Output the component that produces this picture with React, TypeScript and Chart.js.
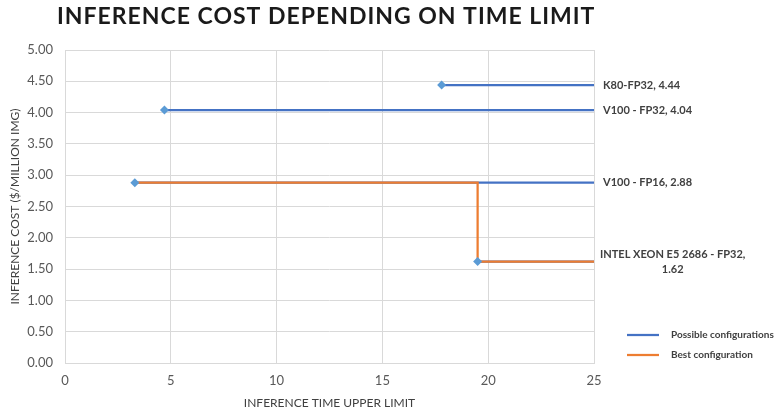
import React, { useEffect, useRef } from "react";
import { Chart, registerables } from "chart.js";

Chart.register(...registerables);

const chartTitle = "INFERENCE COST DEPENDING ON TIME LIMIT";
const xAxisTitle = "INFERENCE TIME UPPER LIMIT";
const yAxisTitle = "INFERENCE COST ($/MILLION IMG)";

const configNames = ["K80-FP32", "V100 - FP32", "V100 - FP16", "INTEL XEON E5 2686 - FP32"];
const configTimes = [17.8, 4.7, 3.3, 19.5];
const configCosts = [4.44, 4.04, 2.88, 1.62];
const timeLimitMax = 25;

const bestPathTimes = [3.3, 19.5, 19.5, 25];
const bestPathCosts = [2.88, 2.88, 1.62, 1.62];

const legendLabels = ["Possible configurations", "Best configuration"];

const BLUE = "#4472C4";
const MARKER = "#5B9BD5";
const ORANGE = "#ED7D31";
const FONT = "Lato, 'Open Sans', sans-serif";

export default function App() {
  const ref = useRef<HTMLCanvasElement | null>(null);

  useEffect(() => {
    if (!ref.current) return;

    const datasets: any[] = [];
    datasets.push({
      label: "markers",
      data: configTimes.map((t, i) => ({ x: t, y: configCosts[i] })),
      showLine: false,
      pointStyle: "rectRot",
      pointRadius: 4.5,
      pointBackgroundColor: MARKER,
      pointBorderColor: MARKER,
      borderWidth: 0,
    });
    datasets.push({
      label: legendLabels[1],
      data: bestPathTimes.map((t, i) => ({ x: t, y: bestPathCosts[i] })),
      showLine: true,
      borderColor: ORANGE,
      borderWidth: 2.25,
      pointRadius: 0,
      borderCapStyle: "butt",
    });
    configTimes.forEach((t, i) => {
      datasets.push({
        label: configNames[i],
        data: [
          { x: t, y: configCosts[i] },
          { x: timeLimitMax, y: configCosts[i] },
        ],
        showLine: true,
        borderColor: BLUE,
        borderWidth: 2.25,
        pointRadius: 0,
      });
    });

    const overlay = {
      id: "overlay",
      afterDatasetsDraw(chart: any) {
        const ctx = chart.ctx;
        const xs = chart.scales.x;
        const ys = chart.scales.y;
        ctx.save();
        ctx.fillStyle = "#404040";
        ctx.font = `bold 11px ${FONT}`;
        ctx.textBaseline = "middle";
        configNames.forEach((name, i) => {
          const px = xs.getPixelForValue(timeLimitMax);
          const py = ys.getPixelForValue(configCosts[i]);
          const text = `${name}, ${configCosts[i].toFixed(2)}`;
          const w = ctx.measureText(text).width;
          if (px + 8 + w > chart.width - 4) {
            const line1 = `${name},`;
            const line2 = configCosts[i].toFixed(2);
            const w1 = ctx.measureText(line1).width;
            ctx.textAlign = "center";
            const cx = px + 6 + w1 / 2;
            ctx.fillText(line1, cx, py - 7);
            ctx.fillText(line2, cx, py + 8);
          } else {
            ctx.textAlign = "left";
            ctx.fillText(text, px + 9, py);
          }
        });
        const items = [
          { label: legendLabels[0], color: BLUE },
          { label: legendLabels[1], color: ORANGE },
        ];
        ctx.font = `bold 10px ${FONT}`;
        ctx.textAlign = "left";
        items.forEach((it, k) => {
          const y = 335 + k * 20;
          ctx.strokeStyle = it.color;
          ctx.lineWidth = 2.25;
          ctx.beginPath();
          ctx.moveTo(627, y);
          ctx.lineTo(659, y);
          ctx.stroke();
          ctx.fillStyle = "#404040";
          ctx.fillText(it.label, 671, y);
        });
        ctx.fillStyle = "#1a1a1a";
        ctx.font = `bold 23px ${FONT}`;
        (ctx as any).letterSpacing = "1px";
        ctx.textBaseline = "alphabetic";
        ctx.fillText(chartTitle, 57, 24);
        ctx.restore();
      },
    };

    const chart = new Chart(ref.current, {
      type: "scatter",
      data: { datasets },
      plugins: [overlay],
      options: {
        animation: false,
        responsive: false,
        devicePixelRatio: 1,
        layout: { padding: { top: 50, right: 180, left: 0, bottom: 0 } },
        plugins: {
          legend: { display: false },
          tooltip: { enabled: false },
          title: { display: false },
        },
        scales: {
          x: {
            type: "linear",
            min: 0,
            max: 25,
            ticks: {
              stepSize: 5,
              color: "#595959",
              font: { family: FONT, size: 13 },
              padding: 10,
            },
            grid: { color: "#d9d9d9", drawTicks: false },
            border: { color: "#d9d9d9" },
            title: {
              display: true,
              text: xAxisTitle,
              color: "#404040",
              font: { family: FONT, size: 12, lineHeight: 0.7 },
              padding: { top: 9 },
            },
            afterFit(scale: any) {
              scale.height = 48;
            },
          },
          y: {
            type: "linear",
            min: 0,
            max: 5,
            ticks: {
              stepSize: 0.5,
              color: "#595959",
              font: { family: FONT, size: 13 },
              padding: 12,
              callback: (v: any) => Number(v).toFixed(2),
            },
            grid: { color: "#d9d9d9", drawTicks: false },
            border: { display: false },
            title: {
              display: true,
              text: yAxisTitle,
              color: "#404040",
              font: { family: FONT, size: 12, lineHeight: 1.2 },
              padding: { top: 8, bottom: 0 },
            },
            afterFit(scale: any) {
              scale.width = 65;
            },
          },
        },
      },
    });
    return () => chart.destroy();
  }, []);

  return (
    <div style={{ position: "absolute", left: 0, top: 0, width: 774, height: 411, background: "#fff" }}>
      <canvas ref={ref} width={774} height={411} style={{ width: 774, height: 411 }} />
    </div>
  );
}
